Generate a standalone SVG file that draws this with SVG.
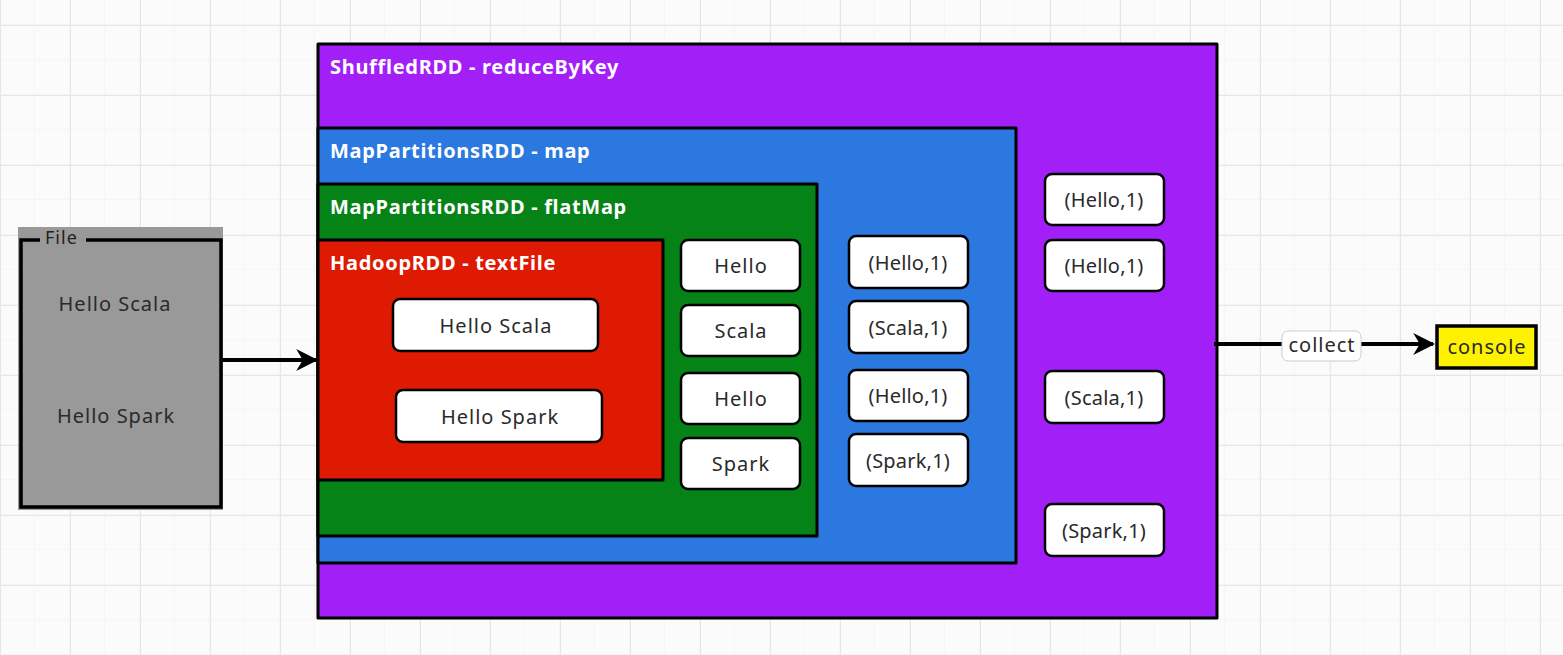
<svg xmlns="http://www.w3.org/2000/svg" width="1563" height="655" viewBox="0 0 1563 655">
<style>
.box{stroke:#000;stroke-width:3;stroke-linejoin:round}
.item{fill:#fff;stroke:#000;stroke-width:2.5}
.t{font-family:"Noto Sans","Liberation Sans",sans-serif;font-size:20px;letter-spacing:1px;fill:#2a2a2a;text-anchor:middle;dominant-baseline:central}
.tp{letter-spacing:0.2px}
.h{font-family:"Noto Sans","Liberation Sans",sans-serif;font-size:20px;letter-spacing:0.7px;font-weight:bold;fill:#fff}
.conn{stroke:#000;stroke-width:4;fill:none}
</style>
<defs>
<pattern id="minor" width="35" height="35" patternUnits="userSpaceOnUse" x="0" y="25">
<path d="M35 0V35M0 35H35" stroke="#f0f0f0" stroke-width="1" fill="none"/>
</pattern>
<pattern id="major" width="70" height="70" patternUnits="userSpaceOnUse" x="0" y="25">
<path d="M0 0V70M0 0H70" stroke="#e6e6e6" stroke-width="2" fill="none"/>
</pattern>
<marker id="arr" viewBox="0 0 10 10" refX="9" refY="5" markerWidth="5.5" markerHeight="5.5" orient="auto" markerUnits="strokeWidth">
<path d="M0 0L10 5L0 10L3 5Z" fill="#000"/>
</marker>
</defs>
<rect width="1563" height="655" fill="#fbfbfb"/>
<rect width="1563" height="655" fill="url(#minor)"/>
<rect width="1563" height="655" fill="url(#major)"/>

<g id="file">
<rect x="18" y="227" width="205" height="283" fill="#999"/>
<path d="M40 240H21V507H221V240H86" fill="none" stroke="#000" stroke-width="3.5"/>
<text x="45" y="237" font-family="Noto Sans,Liberation Sans,sans-serif" font-size="18" letter-spacing="1" fill="#222" dominant-baseline="central">File</text>
<text class="t" x="115" y="303">Hello Scala</text>
<text class="t" x="116" y="415">Hello Spark</text>
</g>

<g id="shuffled">
<rect class="box" x="318" y="44" width="899" height="574" fill="#a21ff7"/>
<text class="h" x="330" y="74">ShuffledRDD - reduceByKey</text>
</g>
<g id="map">
<rect class="box" x="318" y="128" width="698" height="435" fill="#2a78e0"/>
<text class="h" x="330" y="158">MapPartitionsRDD - map</text>
</g>
<g id="flatmap">
<rect class="box" x="318" y="184" width="499" height="352" fill="#058316"/>
<text class="h" x="330" y="214">MapPartitionsRDD - flatMap</text>
</g>
<g id="hadoop">
<rect class="box" x="318" y="240" width="345" height="240" fill="#de1a02"/>
<text class="h" x="330" y="270">HadoopRDD - textFile</text>
</g>

<g id="h-scala"><rect class="item" x="393" y="299" width="205" height="52" rx="7"/><text class="t" x="496" y="325">Hello Scala</text></g>
<g id="h-spark"><rect class="item" x="396" y="390" width="206" height="52" rx="7"/><text class="t" x="500" y="416">Hello Spark</text></g>

<g id="w1"><rect class="item" x="681" y="240" width="119" height="51" rx="7"/><text class="t" x="741" y="265">Hello</text></g>
<g id="w2"><rect class="item" x="681" y="305" width="119" height="51" rx="7"/><text class="t" x="741" y="330">Scala</text></g>
<g id="w3"><rect class="item" x="681" y="373" width="119" height="51" rx="7"/><text class="t" x="741" y="398">Hello</text></g>
<g id="w4"><rect class="item" x="681" y="438" width="119" height="51" rx="7"/><text class="t" x="741" y="463">Spark</text></g>

<g id="m1"><rect class="item" x="849" y="236" width="119" height="52" rx="7"/><text class="t tp" x="908" y="262">(Hello,1)</text></g>
<g id="m2"><rect class="item" x="849" y="301" width="119" height="52" rx="7"/><text class="t tp" x="908" y="327">(Scala,1)</text></g>
<g id="m3"><rect class="item" x="849" y="370" width="119" height="51" rx="7"/><text class="t tp" x="908" y="395">(Hello,1)</text></g>
<g id="m4"><rect class="item" x="849" y="434" width="119" height="52" rx="7"/><text class="t tp" x="908" y="460">(Spark,1)</text></g>

<g id="r1"><rect class="item" x="1045" y="174" width="119" height="51" rx="7"/><text class="t tp" x="1104" y="199">(Hello,1)</text></g>
<g id="r2"><rect class="item" x="1045" y="240" width="119" height="51" rx="7"/><text class="t tp" x="1104" y="265">(Hello,1)</text></g>
<g id="r3"><rect class="item" x="1045" y="371" width="119" height="52" rx="7"/><text class="t tp" x="1104" y="397">(Scala,1)</text></g>
<g id="r4"><rect class="item" x="1045" y="504" width="119" height="52" rx="7"/><text class="t tp" x="1104" y="530">(Spark,1)</text></g>

<g id="console">
<rect x="1437" y="326" width="99" height="42" fill="#fff200" stroke="#000" stroke-width="3.5"/>
<text class="t" x="1487" y="346" fill="#111">console</text>
</g>

<g id="connectors">
<line class="conn" x1="222" y1="360" x2="316" y2="360" marker-end="url(#arr)"/>
<line class="conn" x1="1214" y1="344" x2="1433" y2="344" marker-end="url(#arr)"/>
<rect x="1282" y="331" width="79" height="30" rx="6" fill="#fff" stroke="#ccc" stroke-width="1"/>
<text class="t" x="1322" y="344">collect</text>
</g>
</svg>
